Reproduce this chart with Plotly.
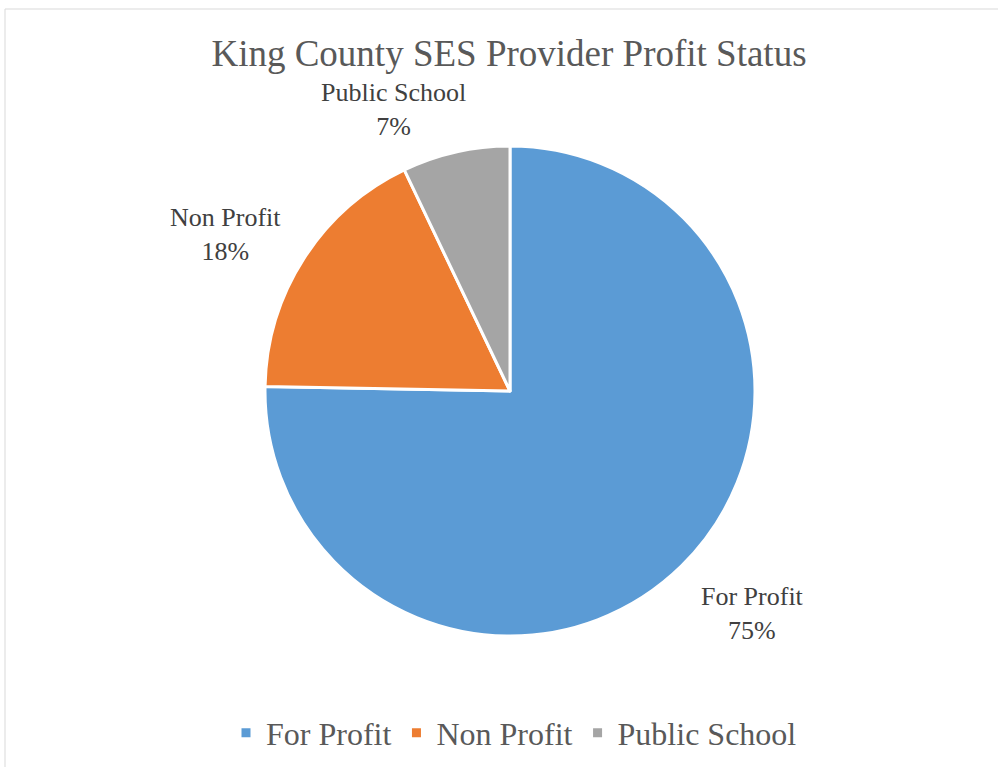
import plotly.graph_objects as go

# provider profit status shares (percent)
labels = ['For Profit', 'Non Profit', 'Public School']
shares = [75.3, 17.6, 7.1]
colors = ['#5B9BD5', '#ED7D31', '#A5A5A5']

W, H = 998, 767
SERIF = '"Liberation Serif", "Times New Roman", Times, serif'

# where the data labels sit (pixel centres, as in the original Excel chart)
label_pos = [(752, 613), (225, 234), (393, 109)]


def px_x(x):
    return x / W


def px_y(y):
    return 1 - y / H


fig = go.Figure(go.Pie(
    labels=labels,
    values=shares,
    sort=False,
    direction='clockwise',
    rotation=0,
    marker=dict(colors=colors, line=dict(color='white', width=3)),
    textinfo='none',
    hoverinfo='label+percent',
    domain=dict(x=[px_x(265), px_x(755)], y=[px_y(636), px_y(146)]),
    showlegend=True,
))

# data labels
for lab, val, (lx, ly) in zip(labels, shares, label_pos):
    fig.add_annotation(
        x=px_x(lx), y=px_y(ly), xref='paper', yref='paper',
        xanchor='center', yanchor='middle', showarrow=False,
        text=f'{lab}<br>{round(val)}%',
        font=dict(family=SERIF, size=26, color='#404040'),
    )

fig.update_layout(
    width=W, height=H,
    margin=dict(l=0, r=0, t=0, b=0),
    paper_bgcolor='white',
    font=dict(family=SERIF, color='#595959'),
    title=dict(text='King County SES Provider Profit Status', x=px_x(509), xanchor='center',
               y=px_y(53), yanchor='middle',
               font=dict(family=SERIF, size=37, color='#595959')),
    legend=dict(orientation='h', x=px_x(514), xanchor='center', y=px_y(733), yanchor='middle',
                font=dict(family=SERIF, size=32, color='#595959'),
                itemwidth=30),
    shapes=[dict(type='rect', xref='paper', yref='paper',
                 x0=px_x(5), x1=1.01, y0=-0.01, y1=px_y(9),
                 line=dict(color='#D9D9D9', width=1), fillcolor='rgba(0,0,0,0)')],
)

# drop the default page margin so the figure fills the window
fig.write_html('out.html', config={'displayModeBar': False},
               post_script="document.body.style.margin='0';")
